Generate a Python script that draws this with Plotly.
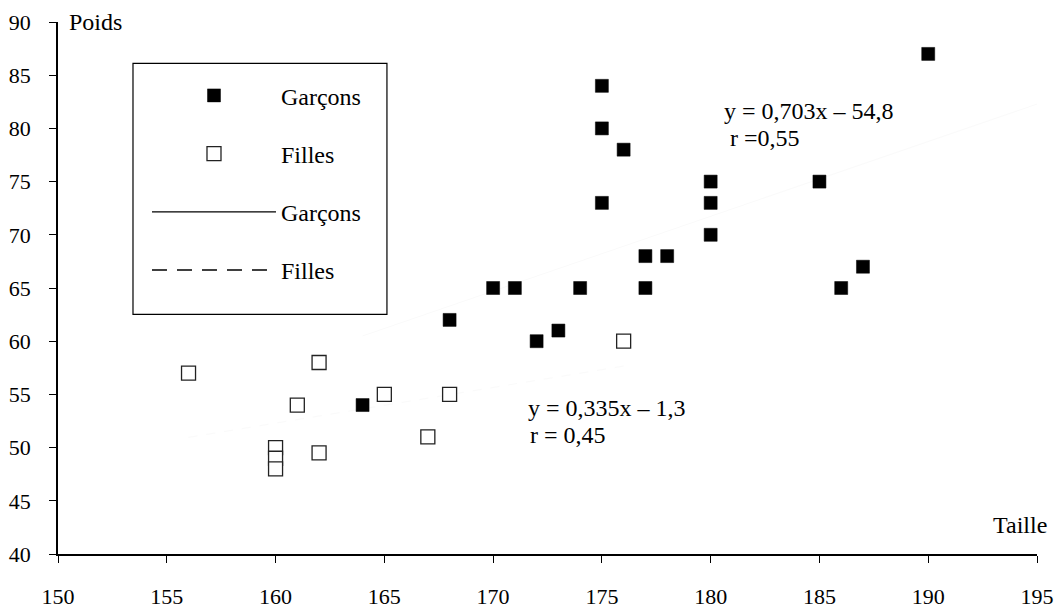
import plotly.graph_objects as go

# Data
garcons_taille = [164, 168, 170, 171, 172, 173, 174, 175, 175, 175, 176, 177, 177, 178, 180, 180, 180, 185, 186, 187, 190]
garcons_poids  = [54, 62, 65, 65, 60, 61, 65, 84, 80, 73, 78, 68, 65, 68, 75, 73, 70, 75, 65, 67, 87]

filles_taille = [156, 160, 160, 160, 161, 162, 162, 165, 167, 168, 176]
filles_poids  = [57, 50, 49, 48, 54, 58, 49.5, 55, 51, 55, 60]

reg_g = (0.703, -54.8)
reg_f = (0.335, -1.3)
reg_g_x = [164, 195]
reg_f_x = [156, 176]

x_ticks = [150, 155, 160, 165, 170, 175, 180, 185, 190, 195]
y_ticks = [40, 45, 50, 55, 60, 65, 70, 75, 80, 85, 90]

FONT = "Liberation Serif, Times New Roman, Times, serif"

fig = go.Figure()

# faint regression lines (nearly invisible in the reference)
fig.add_trace(go.Scatter(x=reg_g_x, y=[reg_g[0] * v + reg_g[1] for v in reg_g_x],
                         mode="lines", line=dict(color="#fafafa", width=1),
                         showlegend=False, hoverinfo="skip"))
fig.add_trace(go.Scatter(x=reg_f_x, y=[reg_f[0] * v + reg_f[1] for v in reg_f_x],
                         mode="lines", line=dict(color="#fafafa", width=1, dash="dash"),
                         showlegend=False, hoverinfo="skip"))

fig.add_trace(go.Scatter(x=filles_taille, y=filles_poids, mode="markers", name="Filles",
                         marker=dict(symbol="square", size=14, color="white",
                                     line=dict(color="#222", width=1.3)),
                         legendgroup="b", legendrank=2))
fig.add_trace(go.Scatter(x=garcons_taille, y=garcons_poids, mode="markers", name="Garçons",
                         marker=dict(symbol="square", size=13, color="black",
                                     line=dict(color="black", width=0.5)),
                         legendgroup="a", legendrank=1))
fig.add_trace(go.Scatter(x=[None], y=[None], mode="lines", name="Garçons",
                         line=dict(color="black", width=1.2), legendgroup="c", legendrank=3))
fig.add_trace(go.Scatter(x=[None], y=[None], mode="lines", name="Filles",
                         line=dict(color="black", width=1.3, dash="15px,10px"),
                         legendgroup="d", legendrank=4))

fig.update_layout(
    width=1059, height=609,
    margin=dict(l=58, r=22, t=22, b=55),
    paper_bgcolor="white", plot_bgcolor="white",
    font=dict(family=FONT, size=22, color="black"),
    showlegend=True,
    legend=dict(x=0.0909, y=0.9036, xanchor="left", yanchor="top",
                borderwidth=0, bgcolor="rgba(0,0,0,0)",
                font=dict(family=FONT, size=24), itemwidth=124,
                tracegroupgap=24, traceorder="grouped"),
    shapes=[dict(type="rect", xref="paper", yref="paper", x0=0.0766, x1=0.336,
                 y0=0.4506, y1=0.9224, line=dict(color="black", width=1.2),
                 fillcolor="white", layer="above")],
    xaxis=dict(range=[150, 195], tickvals=x_ticks, showgrid=False, zeroline=False,
               showline=True, linecolor="black", linewidth=1.5, automargin=False,
               ticks="outside", ticklen=7, tickcolor="black", tickwidth=1,
               ticklabelstandoff=15, tickfont=dict(family=FONT, size=22)),
    yaxis=dict(range=[40, 90], tickvals=y_ticks, showgrid=False, zeroline=False,
               showline=True, linecolor="black", linewidth=1.5, automargin=False,
               ticks="outside", ticklen=7, tickcolor="black", tickwidth=1,
               ticklabelstandoff=14, tickfont=dict(family=FONT, size=22)),
    annotations=[
        dict(text="Poids", xref="paper", yref="paper", x=0.009, y=1.0, xanchor="left",
             yanchor="middle", showarrow=False, font=dict(family=FONT, size=24)),
        dict(text="Taille", xref="paper", yref="paper", x=1.012, y=0.054, xanchor="right",
             yanchor="middle", showarrow=False, font=dict(family=FONT, size=24)),
        dict(text="y = 0,703x – 54,8", xref="x", yref="y", x=180.5, y=81.6, xanchor="left",
             yanchor="middle", showarrow=False, font=dict(family=FONT, size=24)),
        dict(text=" r =0,55", xref="x", yref="y", x=180.5, y=79.1, xanchor="left",
             yanchor="middle", showarrow=False, font=dict(family=FONT, size=24)),
        dict(text="y = 0,335x – 1,3", xref="x", yref="y", x=171.5, y=53.7, xanchor="left",
             yanchor="middle", showarrow=False, font=dict(family=FONT, size=24)),
        dict(text="r = 0,45", xref="x", yref="y", x=171.6, y=51.2, xanchor="left",
             yanchor="middle", showarrow=False, font=dict(family=FONT, size=24)),
    ],
)

fig.write_html("out.html")
